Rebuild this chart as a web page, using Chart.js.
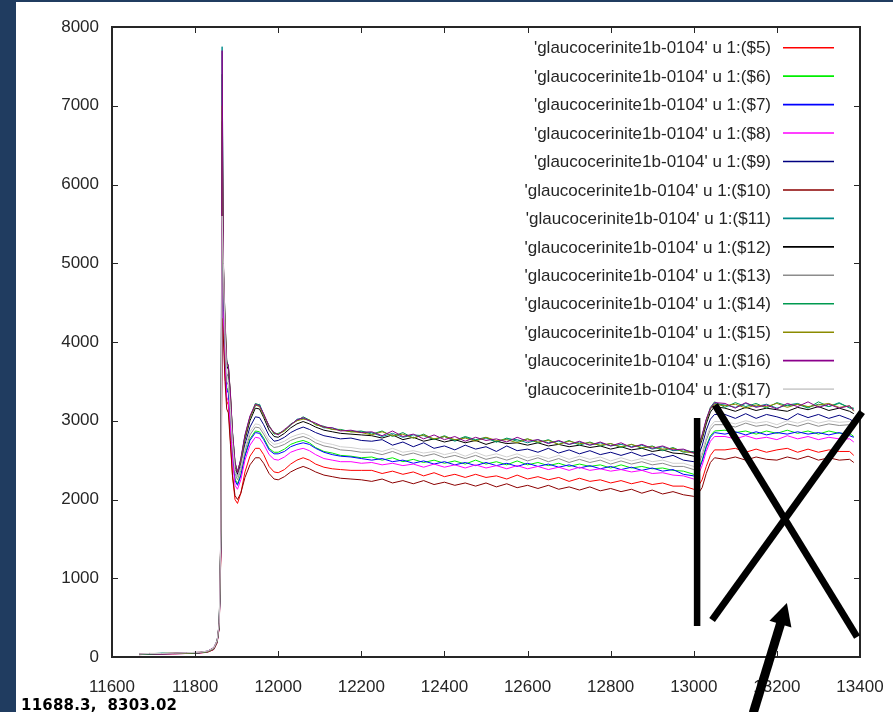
<!DOCTYPE html>
<html>
<head>
<meta charset="utf-8">
<title>glaucocerinite1b-0104</title>
<script src="https://cdn.jsdelivr.net/npm/chart.js@4.4.1/dist/chart.umd.min.js"></script>
<style>
  html, body { margin: 0; padding: 0; }
  body { background: #203c60; width: 893px; height: 712px; overflow: hidden; position: relative; }
  #panel { position: absolute; left: 16px; top: 2px; width: 877px; height: 710px; background: #fff; }
  #chart { display: block; }
  #coords {
    position: absolute; left: 5px; top: 696px;
    font: bold 15px "DejaVu Sans", sans-serif; line-height: 15px;
    color: #000; white-space: pre; letter-spacing: 0.2px;
  }
</style>
</head>
<body>
<div id="panel">
  <canvas id="chart" width="877" height="710"></canvas>
  <div id="coords">11688.3,  8303.02</div>
</div>
<script>
// Energy axis (eV) shared by every column of the scan file
const xValues = [
  11665, 11690, 11720, 11750, 11780, 11810, 11830, 11845, 11853, 11858,
  11862, 11865, 11868, 11872, 11876, 11880, 11885, 11890, 11896, 11902,
  11910, 11920, 11932, 11945, 11955, 11965, 11978, 11990, 12000, 12015,
  12030, 12045, 12060, 12075, 12090, 12110, 12130, 12150, 12175, 12200,
  12225, 12250, 12275, 12300, 12325, 12350, 12375, 12400, 12425, 12450,
  12475, 12500, 12525, 12550, 12575, 12600, 12625, 12650, 12675, 12700,
  12725, 12750, 12775, 12800, 12825, 12850, 12875, 12900, 12925, 12950,
  12975, 13000, 13010, 13020, 13030, 13040, 13050,
  13075, 13100, 13125, 13150, 13175, 13200, 13225, 13250, 13275, 13300,
  13325, 13350, 13375, 13385
];

const col5 = [
  35, 40, 40, 45, 50, 55, 65, 100, 185, 380,
  1350, 4600, 4300, 3600, 3250, 3200, 2750, 2300, 2000, 1950,
  2080, 2350, 2550, 2650, 2650, 2570, 2420, 2350, 2340, 2380, 2450, 2500, 2530, 2500, 2450, 2410, 2390, 2380, 2370, 2370,
  2370, 2330, 2360, 2320, 2350, 2300, 2340, 2290, 2320, 2280, 2320, 2280, 2300, 2260, 2310, 2260,
  2290, 2250, 2280, 2230, 2270, 2230, 2250, 2210, 2240, 2200, 2230, 2190, 2210, 2170, 2170, 2130,
  2160, 2250, 2420, 2560, 2630,
  2630, 2650, 2600, 2640, 2600, 2630, 2650, 2600, 2640, 2600, 2630, 2610, 2610, 2560
];
const col6 = [
  35, 40, 45, 45, 50, 55, 70, 105, 195, 400,
  1480, 5200, 4600, 3850, 3420, 3380, 3020, 2600, 2260, 2200,
  2320, 2570, 2770, 2870, 2860, 2780, 2650, 2600, 2600, 2640, 2700, 2730, 2750, 2720, 2660, 2610, 2590, 2560, 2550, 2530,
  2540, 2500, 2530, 2480, 2510, 2470, 2500, 2460, 2490, 2450, 2500, 2450, 2480, 2440, 2490, 2440,
  2470, 2430, 2460, 2420, 2450, 2420, 2440, 2400, 2440, 2400, 2420, 2390, 2400, 2370, 2360, 2320,
  2370, 2500, 2680, 2810, 2870,
  2880, 2850, 2870, 2830, 2870, 2840, 2880, 2840, 2870, 2830, 2870, 2840, 2840, 2800
];
const col7 = [
  35, 35, 40, 45, 50, 55, 65, 100, 190, 390,
  1420, 5000, 4500, 3800, 3400, 3350, 3000, 2580, 2240, 2180,
  2300, 2550, 2750, 2850, 2840, 2760, 2630, 2580, 2580, 2610, 2670, 2700, 2720, 2700, 2650, 2600, 2570, 2550, 2540, 2520,
  2500, 2520, 2480, 2500, 2460, 2490, 2450, 2480, 2440, 2470, 2430, 2470, 2430, 2460, 2420, 2460,
  2420, 2450, 2410, 2440, 2400, 2430, 2390, 2420, 2380, 2410, 2370, 2400, 2360, 2380, 2320, 2300,
  2350, 2480, 2660, 2790, 2850,
  2830, 2860, 2820, 2860, 2820, 2850, 2830, 2860, 2830, 2850, 2820, 2850, 2810, 2790
];
const col8 = [
  30, 35, 40, 40, 45, 50, 65, 100, 185, 380,
  1400, 4900, 4400, 3700, 3300, 3250, 2920, 2500, 2180, 2130,
  2250, 2500, 2690, 2790, 2780, 2700, 2570, 2510, 2500, 2540, 2600, 2630, 2650, 2620, 2570, 2520, 2500, 2480, 2480, 2460,
  2470, 2440, 2460, 2430, 2450, 2410, 2450, 2410, 2440, 2400, 2440, 2400, 2430, 2390, 2430, 2390,
  2420, 2380, 2410, 2370, 2410, 2370, 2390, 2360, 2380, 2350, 2370, 2330, 2340, 2310, 2300, 2260,
  2300, 2430, 2610, 2740, 2800,
  2800, 2770, 2810, 2770, 2790, 2760, 2810, 2770, 2800, 2760, 2790, 2770, 2770, 2730
];
const col9 = [
  35, 40, 45, 45, 50, 55, 70, 105, 195, 400,
  1500, 6000, 4700, 4050, 3600, 3550, 3200, 2750, 2380, 2290,
  2420, 2700, 2920, 3050, 3040, 2950, 2810, 2740, 2750, 2790, 2850, 2890, 2920, 2890, 2850, 2810, 2790, 2770, 2780, 2750,
  2740, 2760, 2690, 2730, 2670, 2720, 2650, 2680, 2630, 2690, 2640, 2670, 2610, 2680, 2620, 2640,
  2600, 2650, 2590, 2630, 2580, 2620, 2570, 2600, 2560, 2600, 2550, 2580, 2530, 2560, 2500, 2480,
  2540, 2680, 2880, 3020, 3080,
  3080, 3030, 3090, 3030, 3080, 3050, 3010, 3090, 3040, 3080, 3030, 3070, 3020, 2990
];
const col10 = [
  30, 35, 40, 40, 45, 50, 60, 95, 180, 370,
  1300, 4300, 4050, 3500, 3150, 3100, 2700, 2300, 2050, 2000,
  2080, 2280, 2440, 2530, 2530, 2460, 2330, 2260, 2250, 2290, 2350, 2390, 2420, 2390, 2350, 2310, 2290, 2270, 2260, 2250,
  2230, 2260, 2210, 2240, 2200, 2240, 2190, 2220, 2180, 2210, 2170, 2210, 2160, 2200, 2150, 2180,
  2140, 2180, 2130, 2160, 2120, 2160, 2110, 2140, 2100, 2130, 2080, 2120, 2070, 2100, 2060, 2040,
  2070, 2150, 2330, 2470, 2530,
  2510, 2540, 2500, 2540, 2510, 2500, 2540, 2510, 2550, 2500, 2530, 2500, 2510, 2470
];
const col11 = [
  45, 40, 50, 45, 55, 55, 75, 110, 210, 420,
  1550, 7750, 4950, 4200, 3720, 3710, 3300, 2860, 2470, 2330,
  2510, 2810, 3050, 3190, 3210, 3080, 2920, 2850, 2830, 2880, 2940, 3020, 3030, 3000, 2960, 2910, 2910, 2880, 2870, 2860,
  2850, 2800, 2840, 2790, 2820, 2810, 2760, 2800, 2740, 2790, 2750, 2780, 2730, 2770, 2760, 2720,
  2760, 2720, 2740, 2700, 2730, 2690, 2720, 2680, 2700, 2670, 2690, 2640, 2670, 2620, 2630, 2600,
  2650, 2810, 3000, 3150, 3220,
  3200, 3170, 3220, 3180, 3210, 3160, 3200, 3220, 3170, 3210, 3180, 3230, 3160, 3150
];
const col12 = [
  35, 40, 40, 45, 50, 55, 70, 110, 200, 400,
  1580, 6800, 4900, 4150, 3700, 3650, 3280, 2800, 2420, 2320,
  2470, 2760, 3000, 3160, 3150, 3040, 2880, 2800, 2790, 2840, 2910, 2960, 2990, 2960, 2920, 2880, 2860, 2840, 2830, 2820,
  2810, 2780, 2820, 2760, 2790, 2740, 2770, 2730, 2760, 2720, 2750, 2700, 2740, 2710, 2720, 2690,
  2720, 2680, 2700, 2670, 2690, 2660, 2680, 2640, 2670, 2630, 2650, 2610, 2630, 2590, 2580, 2550,
  2610, 2760, 2960, 3110, 3180,
  3160, 3120, 3170, 3130, 3160, 3140, 3120, 3170, 3140, 3180, 3130, 3160, 3120, 3090
];
const col13 = [
  30, 40, 40, 45, 50, 55, 65, 105, 190, 390,
  1450, 5500, 4800, 3950, 3500, 3450, 3100, 2680, 2330, 2250,
  2370, 2620, 2820, 2920, 2910, 2830, 2710, 2660, 2670, 2700, 2750, 2780, 2800, 2770, 2720, 2680, 2660, 2630, 2620, 2600,
  2600, 2570, 2610, 2560, 2590, 2550, 2580, 2530, 2560, 2520, 2560, 2510, 2540, 2500, 2540, 2490,
  2530, 2480, 2520, 2470, 2510, 2470, 2500, 2450, 2490, 2450, 2480, 2440, 2460, 2420, 2420, 2380,
  2430, 2560, 2750, 2890, 2950,
  2950, 2920, 2970, 2930, 2950, 2910, 2960, 2930, 2970, 2930, 2960, 2940, 2950, 2920
];
const col14 = [
  35, 40, 45, 45, 50, 55, 70, 115, 200, 410,
  1600, 7400, 5000, 4300, 3780, 3680, 3320, 2830, 2460, 2360,
  2500, 2800, 3040, 3220, 3200, 3070, 2940, 2830, 2840, 2870, 2960, 3000, 3050, 3010, 2950, 2930, 2890, 2890, 2860, 2870,
  2830, 2870, 2800, 2850, 2780, 2830, 2760, 2810, 2750, 2800, 2760, 2790, 2730, 2780, 2740, 2770,
  2720, 2760, 2700, 2750, 2690, 2730, 2680, 2710, 2660, 2700, 2650, 2680, 2620, 2660, 2600, 2610,
  2640, 2800, 3010, 3170, 3240,
  3170, 3230, 3180, 3220, 3160, 3230, 3190, 3210, 3160, 3240, 3180, 3220, 3170, 3160
];
const col15 = [
  40, 45, 45, 50, 50, 60, 70, 115, 205, 425,
  1620, 7000, 5000, 4280, 3740, 3690, 3340, 2840, 2450, 2350,
  2490, 2790, 3040, 3200, 3180, 3070, 2930, 2840, 2830, 2870, 2950, 3000, 3020, 3010, 2950, 2920, 2890, 2880, 2860, 2850,
  2820, 2860, 2810, 2830, 2780, 2820, 2770, 2800, 2760, 2780, 2740, 2790, 2750, 2760, 2720, 2770,
  2730, 2750, 2700, 2740, 2710, 2720, 2690, 2710, 2670, 2700, 2660, 2670, 2640, 2650, 2610, 2590,
  2640, 2790, 3000, 3150, 3210,
  3190, 3210, 3160, 3200, 3180, 3220, 3170, 3210, 3180, 3200, 3220, 3170, 3190, 3120
];
const col16 = [
  40, 45, 40, 50, 55, 60, 75, 120, 210, 430,
  1650, 7700, 5050, 4250, 3750, 3700, 3350, 2850, 2480, 2340,
  2520, 2820, 3060, 3210, 3190, 3090, 2930, 2850, 2820, 2890, 2950, 3010, 3040, 3000, 2970, 2920, 2910, 2870, 2880, 2850,
  2860, 2810, 2870, 2800, 2830, 2770, 2820, 2760, 2800, 2740, 2790, 2750, 2770, 2730, 2790, 2740,
  2760, 2710, 2750, 2700, 2740, 2690, 2730, 2680, 2720, 2660, 2700, 2650, 2680, 2630, 2640, 2590,
  2660, 2820, 3020, 3160, 3230,
  3220, 3160, 3230, 3170, 3200, 3150, 3220, 3180, 3240, 3170, 3210, 3160, 3190, 3130
];
const col17 = [
  40, 45, 45, 50, 55, 60, 75, 115, 210, 430,
  1600, 5600, 5000, 4100, 3600, 3500, 3150, 2720, 2370, 2290,
  2410, 2660, 2860, 2960, 2950, 2870, 2750, 2700, 2710, 2740, 2790, 2820, 2840, 2810, 2760, 2720, 2700, 2670, 2660, 2640,
  2640, 2610, 2650, 2600, 2620, 2590, 2610, 2570, 2600, 2550, 2600, 2550, 2580, 2540, 2580, 2530,
  2560, 2520, 2560, 2510, 2550, 2510, 2540, 2490, 2530, 2490, 2520, 2480, 2500, 2460, 2460, 2420,
  2470, 2600, 2790, 2930, 2990,
  2990, 2960, 3000, 2970, 2990, 2950, 3000, 2970, 3010, 2970, 3000, 2980, 2990, 2960
];

const seriesCols = [5, 6, 7, 8, 9, 10, 11, 12, 13, 14, 15, 16, 17];
const seriesValues = [col5, col6, col7, col8, col9, col10, col11, col12, col13, col14, col15, col16, col17];
const seriesColors = [
  "#ff0000", "#00ee00", "#0000ff", "#ff00ff", "#000080", "#8b0000", "#008b8b",
  "#000000", "#8c8c8c", "#009a50", "#8b8b00", "#8b008b", "#cfcfcf"
];

const xTicks = [11600, 11800, 12000, 12200, 12400, 12600, 12800, 13000, 13200, 13400];
const yTicks = [0, 1000, 2000, 3000, 4000, 5000, 6000, 7000, 8000];

// pen marks drawn over the plot, in data units
const markBar = [[13008, 3035], [13008, 394]];
const crossA = [[13051, 3200], [13393, 254]];
const crossB = [[13405, 3111], [13044, 470]];
const arrowLine = [[13143, -711], [13224, 686]];

const FONT = "'Liberation Sans', Arial, sans-serif";
const INK = "#262626";

const datasets = seriesCols.map((col, i) => ({
  label: `'glaucocerinite1b-0104' u 1:($${col})`,
  data: xValues.map((x, j) => ({ x, y: seriesValues[i][j] })),
  borderColor: seriesColors[i],
  borderWidth: 1,
  pointRadius: 0,
  tension: 0,
  order: seriesCols.length - 1 - i
}));

// gnuplot-like frame, inward tick marks and key box
const framePlugin = {
  id: "frame",
  afterDatasetsDraw(chart) {
    const { ctx, chartArea: a, scales } = chart;
    ctx.save();
    ctx.strokeStyle = INK;
    ctx.lineWidth = 1;
    ctx.beginPath();
    xTicks.slice(1, -1).forEach((v) => {
      const px = Math.round(scales.x.getPixelForValue(v)) + 0.5;
      ctx.moveTo(px, a.bottom); ctx.lineTo(px, a.bottom - 6);
      ctx.moveTo(px, a.top); ctx.lineTo(px, a.top + 6);
    });
    yTicks.slice(1, -1).forEach((v) => {
      const py = Math.round(scales.y.getPixelForValue(v)) + 0.5;
      ctx.moveTo(a.left, py); ctx.lineTo(a.left + 6, py);
      ctx.moveTo(a.right, py); ctx.lineTo(a.right - 6, py);
    });
    ctx.stroke();
    ctx.lineWidth = 2;
    ctx.strokeRect(a.left, a.top, a.right - a.left, a.bottom - a.top);

    // key, right aligned in the top right corner
    ctx.font = `17px ${FONT}`;
    ctx.textAlign = "right";
    ctx.textBaseline = "middle";
    chart.data.datasets.forEach((ds, i) => {
      const y = a.top + 20.7 + i * 28.45;
      ctx.fillStyle = INK;
      ctx.fillText(ds.label, a.right - 89, y + 1);
      ctx.strokeStyle = ds.borderColor;
      ctx.lineWidth = 1.6;
      ctx.beginPath();
      ctx.moveTo(a.right - 77, y);
      ctx.lineTo(a.right - 26, y);
      ctx.stroke();
    });
    ctx.restore();
  },
  afterDraw(chart) {
    const { ctx, scales } = chart;
    const px = (p) => [scales.x.getPixelForValue(p[0]), scales.y.getPixelForValue(p[1])];
    const stroke = (seg, w) => {
      const [a, b] = seg.map(px);
      ctx.lineWidth = w;
      ctx.beginPath();
      ctx.moveTo(a[0], a[1]);
      ctx.lineTo(b[0], b[1]);
      ctx.stroke();
    };
    ctx.save();
    ctx.strokeStyle = "#000";
    ctx.fillStyle = "#000";
    ctx.lineCap = "butt";
    stroke(markBar, 6.5);
    stroke(crossA, 7);
    stroke(crossB, 7);

    // arrow pointing up at the crossed-out area
    const [tail, tip] = arrowLine.map(px);
    const dx = tip[0] - tail[0], dy = tip[1] - tail[1];
    const len = Math.hypot(dx, dy);
    const ux = dx / len, uy = dy / len;
    const bx = tip[0] - ux * 22, by = tip[1] - uy * 22;
    ctx.lineWidth = 9;
    ctx.beginPath();
    ctx.moveTo(tail[0], tail[1]);
    ctx.lineTo(bx + ux * 2, by + uy * 2);
    ctx.stroke();
    ctx.beginPath();
    ctx.moveTo(tip[0], tip[1]);
    ctx.lineTo(bx - uy * 11.5, by + ux * 11.5);
    ctx.lineTo(bx + uy * 11.5, by - ux * 11.5);
    ctx.closePath();
    ctx.fill();
    ctx.restore();
  }
};

document.addEventListener("DOMContentLoaded", () => {
  const ctx = document.getElementById("chart").getContext("2d");
  new Chart(ctx, {
    type: "line",
    data: { datasets },
    options: {
      responsive: false,
      animation: false,
      devicePixelRatio: 1,
      layout: { padding: { top: 25, right: 33, bottom: 0, left: 0 } },
      plugins: { legend: { display: false }, tooltip: { enabled: false } },
      elements: { point: { radius: 0 }, line: { borderWidth: 1 } },
      scales: {
        x: {
          type: "linear",
          min: 11600,
          max: 13400,
          grid: { display: false, drawTicks: false },
          border: { display: false },
          afterFit: (scale) => {
            scale.height = 55;
            scale.paddingLeft = 0;
            scale.paddingRight = 0;
          },
          afterBuildTicks: (scale) => { scale.ticks = xTicks.map((v) => ({ value: v })); },
          ticks: {
            autoSkip: false,
            maxRotation: 0,
            padding: 20,
            color: INK,
            font: { family: FONT, size: 17 },
            callback: (v) => String(v)
          }
        },
        y: {
          min: 0,
          max: 8000,
          grid: { display: false, drawTicks: false },
          border: { display: false },
          afterFit: (scale) => {
            scale.width = 96;
            scale.paddingTop = 0;
            scale.paddingBottom = 0;
          },
          afterBuildTicks: (scale) => { scale.ticks = yTicks.map((v) => ({ value: v })); },
          ticks: {
            padding: 13,
            color: INK,
            font: { family: FONT, size: 17 },
            callback: (v) => String(v)
          }
        }
      }
    },
    plugins: [framePlugin]
  });
});
</script>
</body>
</html>
